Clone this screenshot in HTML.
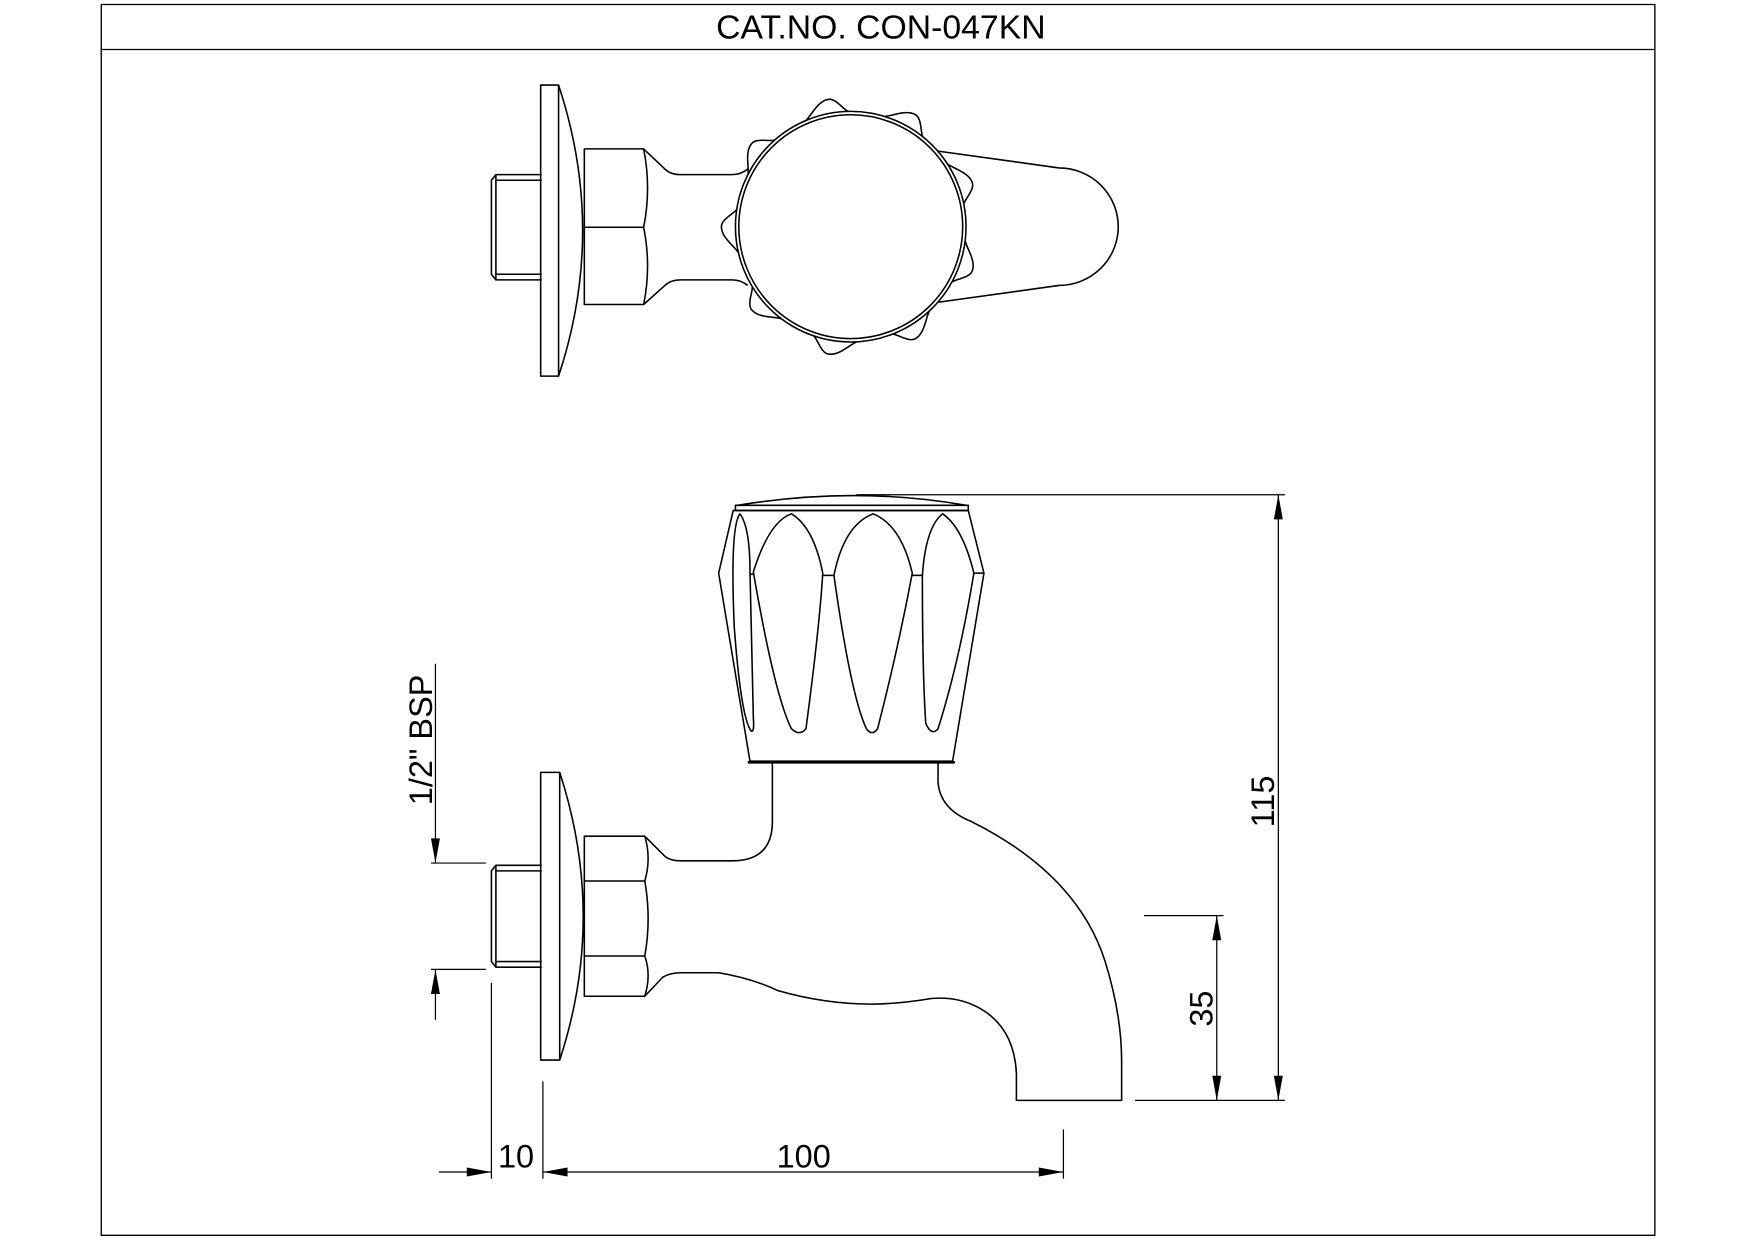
<!DOCTYPE html>
<html><head><meta charset="utf-8"><style>
html,body{margin:0;padding:0;background:#fff;}
svg{display:block;}
text{font-family:"Liberation Sans",Arial,sans-serif;fill:#000;}
</style></head><body>
<svg id="s" width="1755" height="1240" viewBox="0 0 1560 1102.2" preserveAspectRatio="none" xmlns="http://www.w3.org/2000/svg">
<g fill="none" stroke="#000" stroke-width="1.4" stroke-linejoin="round">
<rect x="90" y="4" width="1381" height="1094" stroke-width="1.2"/>
<line x1="90" y1="44" x2="1471" y2="44" stroke-width="1.2"/>
</g>
<g transform="translate(2,1) scale(0.995)">
<g fill="none" stroke="#000" stroke-width="1.4" stroke-linejoin="round">
<!-- ===== TOP VIEW ===== -->
<path d="M482,155 L441,155 L437,160 L437,244 L441,249 L482,249"/>
<line x1="441" y1="160" x2="482" y2="160"/>
<line x1="441" y1="244" x2="482" y2="244"/>
<line x1="441" y1="155" x2="441" y2="249"/>
<rect x="481" y="75" width="16" height="260"/>
<path d="M497,75 Q540,205 497,335"/>
<path d="M520,132 L573,132 Q580,167 573,202 Q580,237 573,271 L520,271 Z"/>
<line x1="520" y1="202" x2="573" y2="202"/>
<path d="M573,132 L592,150 Q597,155 606,155 L652,155 Q660,155 666,150"/>
<path d="M573,271 L592,254 Q597,249 606,249 L652,249 Q660,249 666,254"/>
<path d="M836,134 L944,149 A53 52.5 0 0 1 944,254 L836,269 Z" fill="#fff"/>
<path id="star" fill="#fff"/>
<circle cx="758" cy="201.5" r="103" fill="#fff"/>
<circle cx="758" cy="201.5" r="100"/>

<!-- ===== FRONT VIEW ===== -->
<path d="M482,772 L441,772 L437,777 L437,858 L441,863 L482,863"/>
<line x1="441" y1="777" x2="482" y2="777"/>
<line x1="441" y1="858" x2="482" y2="858"/>
<line x1="441" y1="772" x2="441" y2="863"/>
<rect x="481" y="689" width="17" height="257"/>
<path d="M498,689 Q540,818 498,946"/>
<path d="M520,746 L574,746 Q580,766 574,786 Q580,820 574,853 Q580,870 574,889 L520,889 Z"/>
<line x1="520" y1="786" x2="574" y2="786"/>
<line x1="520" y1="853" x2="574" y2="853"/>
<path d="M574,746 L592,764 Q597,768 606,768 L652,768 Q688,768 688,733 L688,680"/>
<path d="M836,680 L836,698 Q838,722 866,733 Q960,780 985,857 Q1000,905 1000,947 L1000,982 L906,982 L906,958 Q904,915 870,898 Q852,889 830,891 Q800,896 776,896 Q735,896 693,884 Q670,873 640,868 L606,868 Q597,868 590,872 L574,889"/>
<path d="M653,455 L640,511 L668,679 L849,679 L877,511 L863,455 Z" fill="#fff"/>
<line x1="666" y1="680" x2="851" y2="680" stroke-width="2.4"/>
<rect x="655" y="450.4" width="208" height="4.7"/>
<path d="M657,450.4 Q763,433 861,450.4"/>
<path d="M659,458 Q650,470 654,560 Q660,640 669,652 Q672,654 671,640 L668,510 Q668,470 659,458 Z"/>
<path d="M705,458 Q685,465 671,510 Q690,620 705,650 Q712,657 718,650 Q730,560 733,511 Q725,470 705,458 Z"/>
<path d="M778,458 Q752,468 743,513 Q758,620 772,650 Q777,657 782,650 Q800,580 813,511 Q803,468 778,458 Z"/>
<path d="M840,458 Q825,470 822,513 Q822,600 825,645 Q830,657 836,650 Q855,590 868,511 Q858,470 840,458 Z"/>
<line x1="668" y1="512" x2="672" y2="512"/>
<line x1="733" y1="513" x2="743" y2="513"/>
<line x1="813" y1="513" x2="822" y2="513"/>
<line x1="868" y1="511" x2="877" y2="511"/>

<g stroke-width="1.1">
<line x1="763" y1="441" x2="1146" y2="441"/>
<line x1="1140" y1="441" x2="1140" y2="982"/>
<line x1="1012" y1="982" x2="1146" y2="982"/>
<line x1="1020" y1="817" x2="1091" y2="817"/>
<line x1="1085" y1="817" x2="1085" y2="982"/>
<line x1="483" y1="965" x2="483" y2="1052"/>
<line x1="948" y1="1008" x2="948" y2="1052"/>
<line x1="483" y1="1046" x2="948" y2="1046"/>
<line x1="437" y1="877" x2="437" y2="1052"/>
<line x1="390" y1="1046" x2="437" y2="1046"/>
<line x1="387" y1="592" x2="387" y2="770"/>
<line x1="383" y1="770" x2="432" y2="770"/>
<line x1="383" y1="865" x2="432" y2="865"/>
<line x1="387" y1="865" x2="387" y2="910"/>
</g>
</g>
<g fill="#000" stroke="none">
<path d="M1140,441 l-4,22 l8,0 z"/>
<path d="M1140,982 l-4,-22 l8,0 z"/>
<path d="M1085,817 l-4,22 l8,0 z"/>
<path d="M1085,982 l-4,-22 l8,0 z"/>
<path d="M483,1046 l22,-4 l0,8 z"/>
<path d="M948,1046 l-22,-4 l0,8 z"/>
<path d="M437,1046 l-22,-4 l0,8 z"/>
<path d="M387,770 l-4,-22 l8,0 z"/>
<path d="M387,865 l-4,22 l8,0 z"/>
</g>
<text x="716" y="1042" font-size="29" text-anchor="middle">100</text>
<text x="459" y="1042" font-size="29" text-anchor="middle">10</text>
<text transform="translate(1136,715) rotate(-90)" font-size="29" text-anchor="middle">115</text>
<text transform="translate(1081,900) rotate(-90)" font-size="29" text-anchor="middle">35</text>
<text transform="translate(384,660) rotate(-90)" font-size="29" text-anchor="middle">1/2" BSP</text>
</g>
<text x="783" y="34" font-size="30" text-anchor="middle">CAT.NO. CON-047KN</text>
</svg>
<script>
(function(){
var cx=758,cy=201.5,d="",t0=260*Math.PI/180,P=2*Math.PI/9;
for(var i=0;i<=1440;i++){
var th=i/1440*2*Math.PI;
var p=(th-t0)/P; p=p-Math.floor(p+0.5);
var q=p<0?p/1.2:p/0.8; if(q<-0.5)q=-0.5; if(q>0.5)q=0.5;
var h=Math.pow((1+Math.cos(2*Math.PI*q))/2,2.2);
var r=100.5+15*h;
var x=cx+r*Math.cos(th),y=cy+r*Math.sin(th);
d+=(i?"L":"M")+x.toFixed(1)+","+y.toFixed(1);
}
document.getElementById("star").setAttribute("d",d+"Z");
})();
</script>
</body></html>
